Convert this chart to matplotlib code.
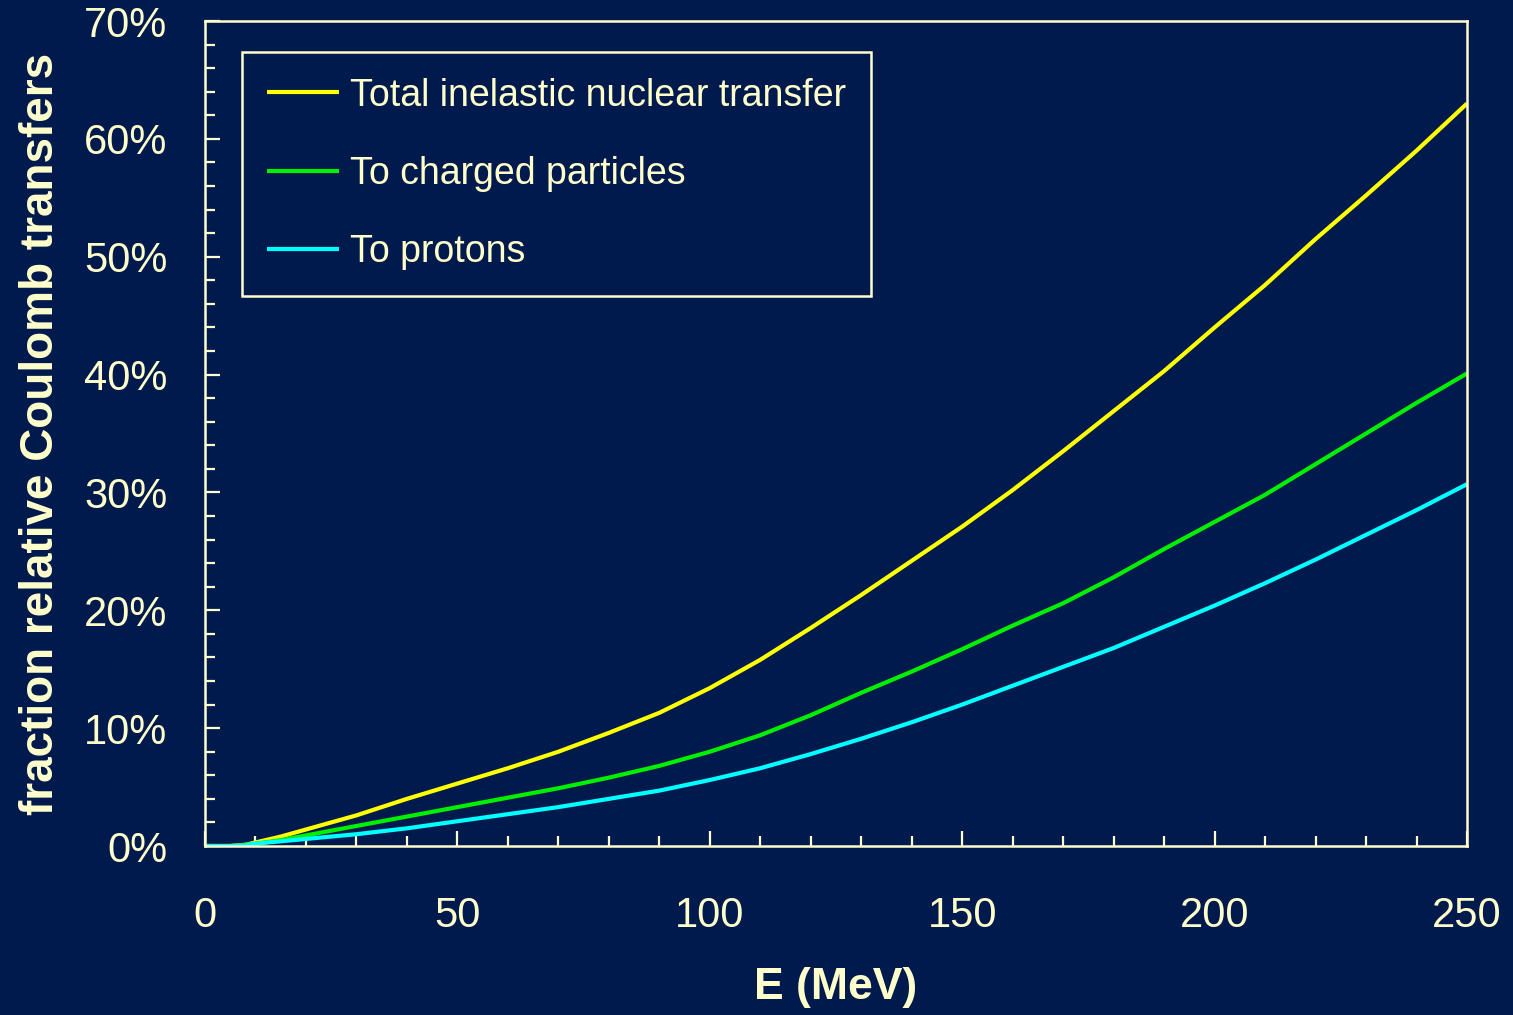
import matplotlib.pyplot as plt
from matplotlib.ticker import MultipleLocator, FuncFormatter

# Energy grid (MeV) and fractions (%) of the Coulomb transfer
energy = [0, 5, 8, 10, 15, 20, 25, 30, 40, 50, 60, 70, 80, 90, 100, 110, 120,
          130, 140, 150, 160, 170, 180, 190, 200, 210, 220, 230, 240, 250]
total_inelastic = [0, 0, 0.1, 0.3, 0.8, 1.4, 2.0, 2.6, 4.0, 5.3, 6.6, 8.0, 9.6,
                   11.3, 13.4, 15.8, 18.5, 21.3, 24.2, 27.1, 30.2, 33.5, 36.9,
                   40.3, 44.0, 47.6, 51.5, 55.2, 59.0, 63.0]
charged = [0, 0, 0.1, 0.2, 0.5, 0.9, 1.3, 1.7, 2.5, 3.3, 4.1, 4.9, 5.8, 6.8,
           8.0, 9.4, 11.1, 13.0, 14.8, 16.7, 18.7, 20.6, 22.8, 25.2, 27.5,
           29.8, 32.4, 35.0, 37.6, 40.1]
protons = [0, 0, 0.05, 0.2, 0.4, 0.6, 0.8, 1.0, 1.5, 2.1, 2.7, 3.3, 4.0, 4.7,
           5.6, 6.6, 7.8, 9.1, 10.5, 12.0, 13.6, 15.2, 16.8, 18.6, 20.4, 22.3,
           24.3, 26.4, 28.5, 30.7]

labels = ['Total inelastic nuclear transfer', 'To charged particles', 'To protons']
colors = ['#FFFF00', '#00F000', '#00FFFF']

bg = '#001A4D'
fg = '#FFFFCC'

plt.rcParams['font.family'] = ['Liberation Sans', 'DejaVu Sans']

fig = plt.figure(figsize=(15.13, 10.15), dpi=100, facecolor=bg)
ax = fig.add_axes([0.1355, 0.1665, 0.8341, 0.8128], facecolor=bg)

for y, lab, c in zip([total_inelastic, charged, protons], labels, colors):
    ax.plot(energy, y, color=c, lw=3, label=lab, solid_capstyle='butt')

ax.set_xlim(0, 250)
ax.set_ylim(0, 70)

# Spines and ticks
for s in ax.spines.values():
    s.set_color(fg)
    s.set_linewidth(1.8)

ax.xaxis.set_major_locator(MultipleLocator(50))
ax.xaxis.set_minor_locator(MultipleLocator(10))
ax.yaxis.set_major_locator(MultipleLocator(10))
ax.yaxis.set_minor_locator(MultipleLocator(2))
ax.yaxis.set_major_formatter(FuncFormatter(lambda v, p: '%d%%' % v))

ax.tick_params(which='both', direction='in', colors=fg, width=1.6,
               top=False, right=False)
ax.tick_params(which='major', length=11, labelsize=30)
ax.tick_params(which='minor', length=7.5)
ax.tick_params(axis='x', which='major', pad=36)
ax.tick_params(axis='y', which='major', pad=27)

ax.set_xlabel('E (MeV)', fontsize=32, fontweight='bold', color=fg, labelpad=22)
ax.set_ylabel('fraction relative Coulomb transfers', fontsize=33,
              fontweight='bold', color=fg, labelpad=15)

leg = ax.legend(loc='upper left', bbox_to_anchor=(0.0293, 0.9624),
                borderaxespad=0, fontsize=27, frameon=True, fancybox=False,
                handlelength=1.9, handletextpad=0.3, labelspacing=1.13,
                borderpad=0.68)
frame = leg.get_frame()
frame.set_facecolor(bg)
frame.set_edgecolor(fg)
frame.set_linewidth(1.8)
frame.set_alpha(1)
for t in leg.get_texts():
    t.set_color(fg)

fig.savefig('out.png', dpi=100, facecolor=bg)
